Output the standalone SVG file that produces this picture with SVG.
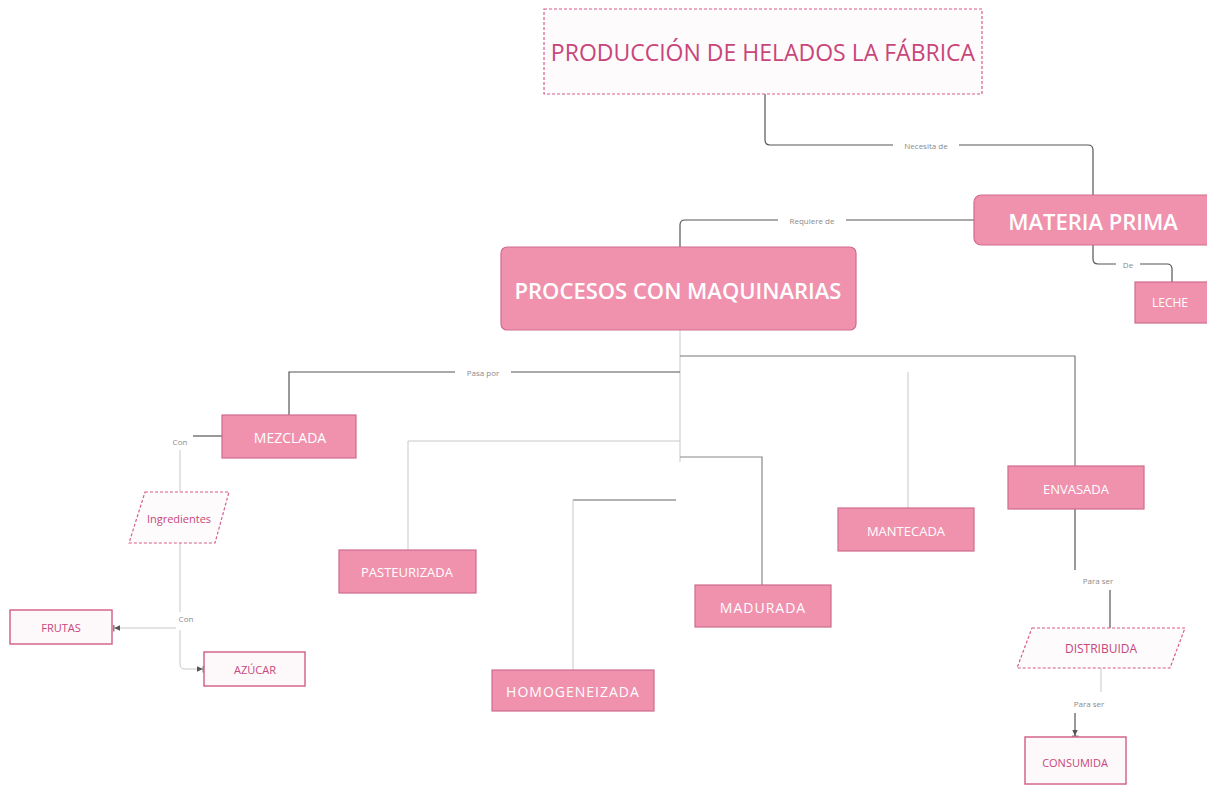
<svg xmlns="http://www.w3.org/2000/svg" width="1207" height="786" viewBox="0 0 1207 786">
<defs>
<style>
.pk{fill:#f092ae;stroke:#cf6c8e;stroke-width:1.2}
.wb{fill:#fdf9fb;stroke:#d4668f;stroke-width:1.5}
.dash{fill:#fdfbfc;stroke:#d85b8d;stroke-width:1.2;stroke-dasharray:3 2}
.wt{fill:#ffffff;font-family:"Open Sans","Liberation Sans",sans-serif;text-anchor:middle;dominant-baseline:central}
.pt{fill:#c8467a;font-family:"Open Sans","Liberation Sans",sans-serif;text-anchor:middle;dominant-baseline:central}
.lb{fill:#8a8a8a;font-family:"Open Sans","Liberation Sans",sans-serif;font-size:8px;text-anchor:middle;dominant-baseline:central}
.c{fill:none;stroke:#555;stroke-width:1.2}
.cl{fill:none;stroke:#c9c9c9;stroke-width:1}
.lbg{fill:#ffffff}
</style>
<marker id="arr" viewBox="0 0 10 10" refX="9" refY="5" markerWidth="7" markerHeight="7" orient="auto" markerUnits="userSpaceOnUse">
<path d="M0,1 L9,5 L0,9 Z" fill="#555"/>
<rect x="8.5" y="0" width="1.5" height="10" fill="#555"/>
</marker>
</defs>
<rect width="1207" height="786" fill="#ffffff"/>

<g id="connectors">
<path class="c" d="M765,94 V140 Q765,145 770,145 H1088 Q1093,145 1093,150 V195"/>
<rect class="lbg" x="893" y="139" width="66" height="12"/>
<text class="lb" x="926" y="145">Necesita de</text>

<path class="c" d="M974,220 H685 Q680,220 680,225 V247"/>
<rect class="lbg" x="778" y="214" width="68" height="12"/>
<text class="lb" x="812" y="220">Requiere de</text>

<path class="c" d="M1093,245 V259 Q1093,264 1098,264 H1167 Q1172,264 1172,269 V282"/>
<rect class="lbg" x="1116" y="258" width="24" height="12"/>
<text class="lb" x="1128" y="264">De</text>

<path class="cl" d="M680,330 V462"/>
<path class="c" d="M680,372 H289 V415"/>
<rect class="lbg" x="455" y="366" width="56" height="12"/>
<text class="lb" x="483" y="372">Pasa por</text>
<path class="c" d="M680,356 H1075 V466" style="stroke:#777"/>
<path class="cl" d="M680,441 H408 V550"/>
<path class="c" d="M680,457 H762 V585" style="stroke:#888"/>
<path class="c" d="M676,500 H573" style="stroke:#666"/>
<path class="cl" d="M573,500 V670"/>
<path class="cl" d="M908,372 V508"/>

<path class="c" d="M222,436 H193"/>
<text class="lb" x="180" y="441">Con</text>
<path class="cl" d="M180,450 V492"/>
<path class="cl" d="M180,543 V612"/>
<text class="lb" x="186" y="618">Con</text>
<path class="cl" d="M176,628 H114" marker-end="url(#arr)"/>
<path class="cl" d="M180,630 V664 Q180,669 185,669 H203" marker-end="url(#arr)"/>

<path class="c" d="M1075,509 V570"/>
<text class="lb" x="1098" y="580">Para ser</text>
<path class="c" d="M1110,590 V628"/>
<path class="cl" d="M1101,668 V692"/>
<text class="lb" x="1089" y="703">Para ser</text>
<path class="c" d="M1075,713 V736" marker-end="url(#arr)"/>
</g>

<g id="title">
<rect class="dash" x="544" y="9" width="438" height="85"/>
<text class="pt" x="763" y="52" font-size="23">PRODUCCIÓN DE HELADOS LA FÁBRICA</text>
</g>
<g id="materia">
<rect class="pk" x="974" y="195" width="240" height="50" rx="7"/>
<text class="wt" x="1093" y="221" font-size="22" font-weight="600">MATERIA PRIMA</text>
</g>
<g id="procesos">
<rect class="pk" x="501" y="247" width="355" height="83" rx="6"/>
<text class="wt" x="678" y="290" font-size="22" font-weight="600">PROCESOS CON MAQUINARIAS</text>
</g>
<g id="leche">
<rect class="pk" x="1135" y="282" width="80" height="41"/>
<text class="wt" x="1170" y="302" font-size="12">LECHE</text>
</g>
<g id="mezclada">
<rect class="pk" x="222" y="415" width="134" height="43"/>
<text class="wt" x="290" y="437" font-size="14">MEZCLADA</text>
</g>
<g id="pasteurizada">
<rect class="pk" x="339" y="550" width="137" height="43"/>
<text class="wt" x="407" y="572" font-size="13">PASTEURIZADA</text>
</g>
<g id="homogeneizada">
<rect class="pk" x="492" y="670" width="162" height="41"/>
<text class="wt" x="573" y="691" font-size="14" letter-spacing="1">HOMOGENEIZADA</text>
</g>
<g id="madurada">
<rect class="pk" x="695" y="585" width="136" height="42"/>
<text class="wt" x="763" y="607" font-size="14" letter-spacing="1">MADURADA</text>
</g>
<g id="mantecada">
<rect class="pk" x="838" y="508" width="136" height="43"/>
<text class="wt" x="906" y="531" font-size="13">MANTECADA</text>
</g>
<g id="envasada">
<rect class="pk" x="1008" y="466" width="136" height="43"/>
<text class="wt" x="1076" y="489" font-size="13">ENVASADA</text>
</g>
<g id="ingredientes">
<polygon class="dash" points="145,492 229,492 215,543 129,543"/>
<text class="pt" x="179" y="518" font-size="11">Ingredientes</text>
</g>
<g id="frutas">
<rect class="wb" x="10" y="610" width="102" height="34"/>
<text class="pt" x="61" y="627" font-size="11">FRUTAS</text>
</g>
<g id="azucar">
<rect class="wb" x="204" y="652" width="101" height="34"/>
<text class="pt" x="255" y="669" font-size="11">AZÚCAR</text>
</g>
<g id="distribuida">
<polygon class="dash" points="1032,628 1185,628 1170,668 1017,668"/>
<text class="pt" x="1101" y="648" font-size="12">DISTRIBUIDA</text>
</g>
<g id="consumida">
<rect class="wb" x="1025" y="737" width="101" height="47"/>
<text class="pt" x="1075" y="762" font-size="11">CONSUMIDA</text>
</g>
</svg>
